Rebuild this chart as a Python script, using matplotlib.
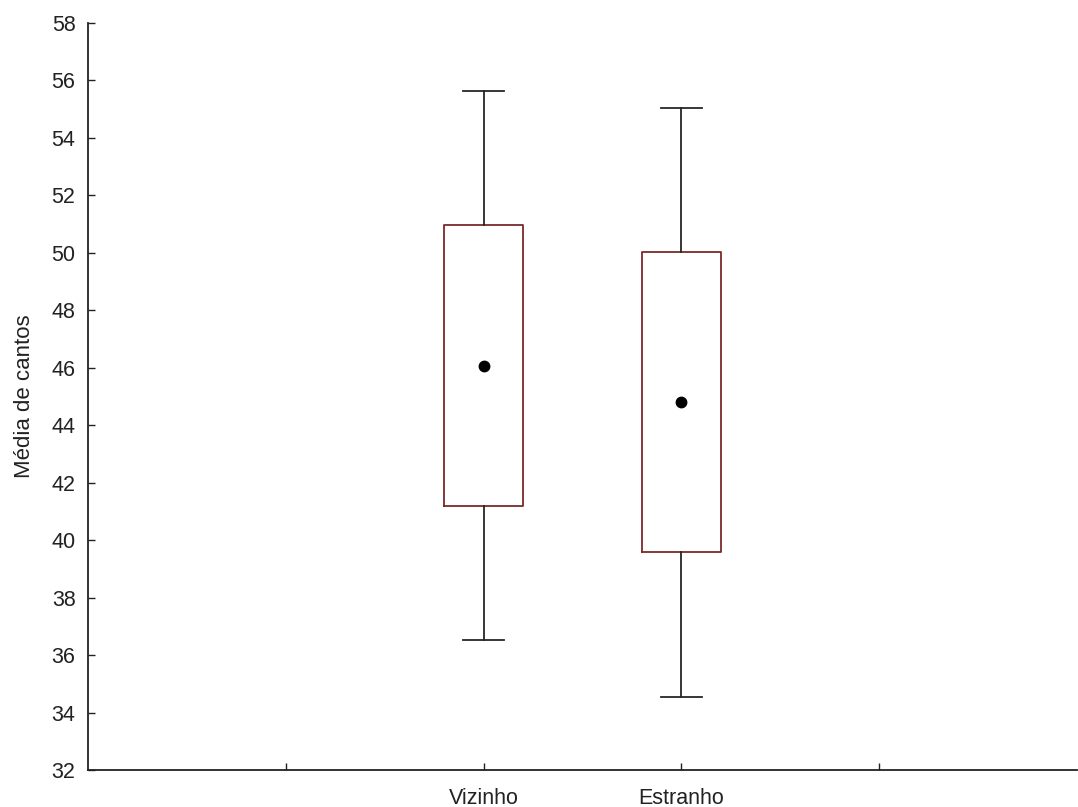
import matplotlib.pyplot as plt

plt.rcParams['font.family'] = ['Liberation Sans', 'DejaVu Sans']

grupos = ['Vizinho', 'Estranho']
posicoes = [2, 3]
medias = [46.07, 44.80]
caixa_inf = [41.19, 39.60]
caixa_sup = [50.97, 50.04]
bigode_inf = [36.51, 34.53]
bigode_sup = [55.62, 55.03]

stats = []
for i in range(len(grupos)):
    stats.append({'label': grupos[i], 'mean': medias[i], 'med': medias[i],
                  'q1': caixa_inf[i], 'q3': caixa_sup[i],
                  'whislo': bigode_inf[i], 'whishi': bigode_sup[i]})

fig = plt.figure(figsize=(10.78, 8.07), dpi=100)
ax = fig.add_axes([88/1078, 1 - 770/807, 1 - 88/1078 - 0.001, (770 - 23)/807])

ax.bxp(stats, positions=posicoes, widths=0.4, showmeans=True, showfliers=False,
       boxprops=dict(color='#7a2a2a', linewidth=1.3),
       whiskerprops=dict(color='#262626', linewidth=1.3),
       capprops=dict(color='#262626', linewidth=1.3),
       capwidths=0.21,
       medianprops=dict(linestyle='none'),
       meanprops=dict(marker='o', markerfacecolor='black', markeredgecolor='black', markersize=7.5))

ax.set_xlim(0, 5)
ax.set_ylim(32, 58)
ax.set_yticks(range(32, 59, 2))
ax.set_xticks([1, 2, 3, 4])
ax.set_xticklabels(['', 'Vizinho', 'Estranho', ''])
ax.tick_params(direction='in', length=5, width=1, colors='#222222', labelsize=15.5)
ax.tick_params(axis='y', pad=9)
ax.tick_params(axis='x', pad=13)
ax.set_ylabel('Média de cantos', fontsize=16, color='#222222', labelpad=12)
for s in ['top', 'right']:
    ax.spines[s].set_visible(False)
for s in ['left', 'bottom']:
    ax.spines[s].set_color('#222222')
    ax.spines[s].set_linewidth(1.3)

fig.savefig('out.png', dpi=100)
